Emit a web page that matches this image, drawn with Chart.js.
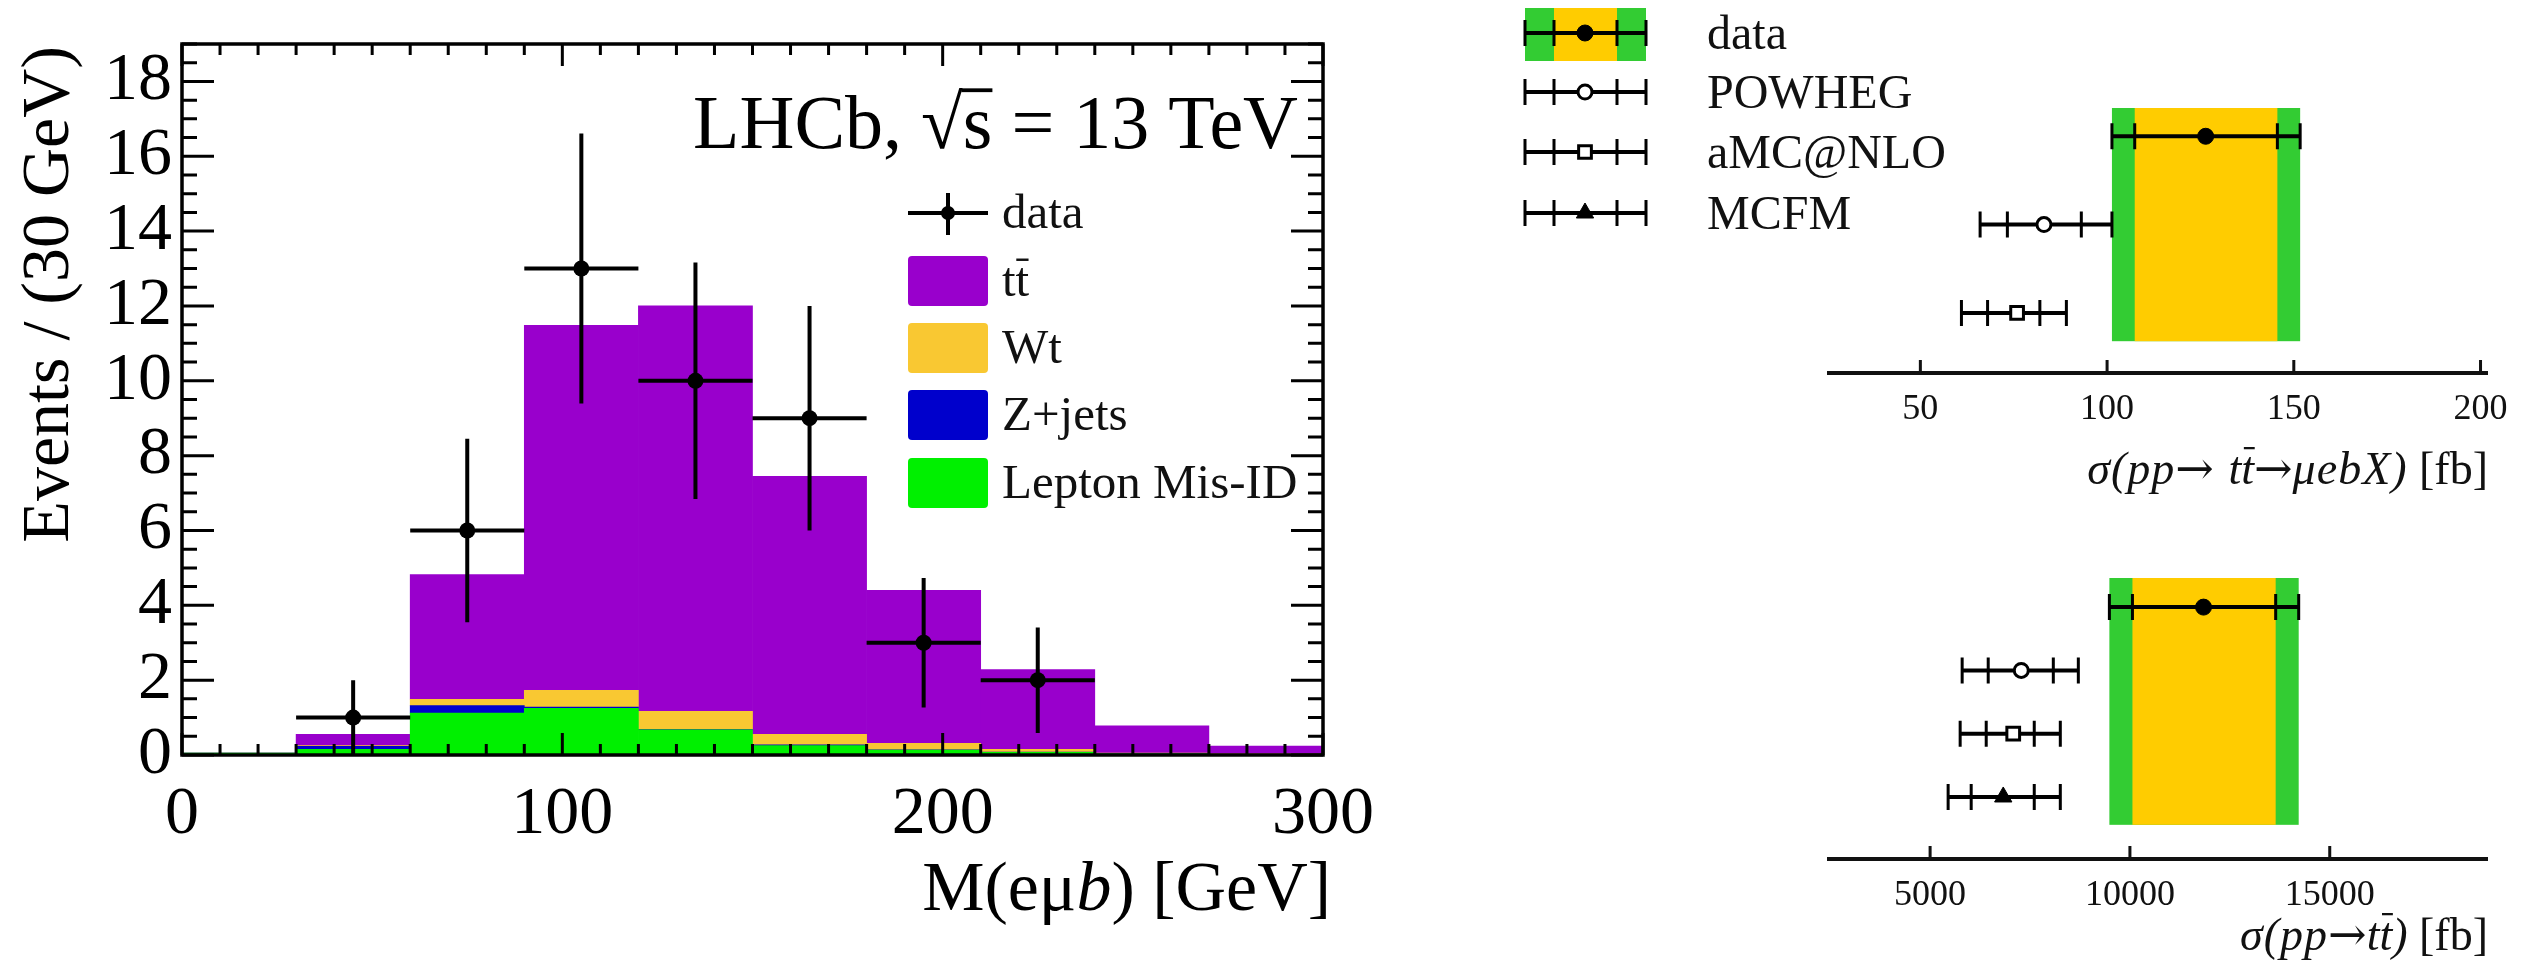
<!DOCTYPE html>
<html>
<head>
<meta charset="utf-8">
<script src="https://cdn.jsdelivr.net/npm/chart.js@4.4.1/dist/chart.umd.min.js"></script>
<style>
  html, body { margin: 0; padding: 0; background: #fff; width: 2529px; height: 967px; overflow: hidden; }
  .pane { position: absolute; }
</style>
</head>
<body>
<div class="pane" style="left:0;top:0;width:1400px;height:967px"><canvas id="mass"></canvas></div>
<div class="pane" style="left:1500px;top:0;width:1029px;height:500px"><canvas id="xsFid"></canvas></div>
<div class="pane" style="left:1500px;top:500px;width:1029px;height:467px"><canvas id="xsTot"></canvas></div>
<script>
// ---- M(e mu b) histogram: 30 GeV bins from 0 to 300 GeV ----
const massBins = ['0-30', '30-60', '60-90', '90-120', '120-150', '150-180', '180-210', '210-240', '240-270', '270-300'];
const misIdEvents = [0.05, 0.15, 1.12, 1.25, 0.67, 0.25, 0.13, 0.07, 0.03, 0.02];
const zJetsEvents = [0.00, 0.08, 0.20, 0.03, 0.01, 0.02, 0.01, 0.01, 0.00, 0.00];
const wtEvents    = [0.00, 0.02, 0.17, 0.45, 0.49, 0.28, 0.17, 0.07, 0.02, 0.01];
const ttbarEvents = [0.00, 0.30, 3.33, 9.75, 10.83, 6.90, 4.09, 2.13, 0.73, 0.21];

// observed events (bin centre, count, errors)
const dataMass    = [45, 75, 105, 135, 165, 195, 225];
const dataCounts  = [1, 6, 13, 10, 9, 3, 2];
const dataErrY    = [1.00, 2.45, 3.61, 3.16, 3.00, 1.73, 1.41];
const dataHalfBin = [15, 15, 15, 15, 15, 15, 15];

const massTickValues   = [0, 100, 200, 300];
const eventsTickValues = [0, 2, 4, 6, 8, 10, 12, 14, 16, 18];

// ---- cross sections: data, POWHEG, aMC@NLO, MCFM ----
const generators = ['data', 'POWHEG', 'aMC@NLO', 'MCFM'];
// sigma(pp -> ttbar -> mu e b X) [fb]
const fidCentral = [126.4, 83.1, 75.9];
const fidInnerLo = [107.4, 73.3, 68.0];
const fidInnerHi = [145.6, 93.1, 82.0];
const fidOuterLo = [101.3, 66.0, 61.0];
const fidOuterHi = [151.7, 101.3, 89.1];
const fidTickValues = [50, 100, 150, 200];
// sigma(pp -> ttbar) [fb]
const totCentral = [11842, 7281, 7080, 6830];
const totInnerLo = [10063, 6454, 6404, 6028];
const totInnerHi = [13647, 8083, 7606, 7606];
const totOuterLo = [9486, 5802, 5752, 5451];
const totOuterHi = [14223, 8709, 8258, 8258];
const totTickValues = [5000, 10000, 15000];

const serif = "'Liberation Serif', 'DejaVu Serif', serif";
const C = {
  ttbar: '#9900CC', wt: '#F9C832', zjets: '#0000CC', misid: '#00F000',
  bandOuter: '#33CC33', bandInner: '#FFCC00', ink: '#000000'
};
const markerStyles = [
  { pointStyle: 'circle',   radius: 8,  fill: '#000', borderWidth: 1 },
  { pointStyle: 'circle',   radius: 7,  fill: '#fff', borderWidth: 3 },
  { pointStyle: 'rect',     radius: 9,  fill: '#fff', borderWidth: 3 },
  { pointStyle: 'triangle', radius: 10, fill: '#000', borderWidth: 1 }
];

function fixedTicks(values) {
  return s => { s.ticks = values.map(v => ({ value: v })); };
}

// text made of several font runs; "bar" puts an overline at the given fraction of the size
function drawRich(ctx, parts, x, y, align) {
  let total = 0;
  parts.forEach(p => {
    ctx.font = p.font;
    ctx.letterSpacing = p.spacing || '0px';
    p.w = ctx.measureText(p.text).width;
    total += p.w;
  });
  let cx = align === 'right' ? x - total : x;
  ctx.textAlign = 'left';
  ctx.textBaseline = 'alphabetic';
  parts.forEach(p => {
    ctx.font = p.font;
    ctx.letterSpacing = p.spacing || '0px';
    ctx.fillText(p.text, cx + (p.dx || 0), y + (p.dy || 0));
    if (p.bar) {
      const size = parseFloat(p.font.match(/(\d+(\.\d+)?)px/)[1]);
      ctx.lineWidth = Math.max(2, size * 0.05);
      ctx.beginPath();
      ctx.moveTo(cx + p.w * (p.from ?? 0.1), y - size * p.bar);
      ctx.lineTo(cx + p.w * (p.to ?? 0.9), y - size * p.bar);
      ctx.stroke();
    }
    cx += p.w;
  });
  ctx.letterSpacing = '0px';
}

// ---------------- left: stacked histogram ----------------
const massDecor = {
  id: 'massDecor',
  beforeDatasetDraw(chart, args) {
    if (args.meta.type !== 'scatter') return;
    const xs = chart.scales.xv, ys = chart.scales.y, ctx = chart.ctx;
    ctx.save();
    ctx.strokeStyle = C.ink;
    ctx.lineWidth = 4;
    dataMass.forEach((m, i) => {
      const px = xs.getPixelForValue(m), py = ys.getPixelForValue(dataCounts[i]);
      const x0 = xs.getPixelForValue(m - dataHalfBin[i]), x1 = xs.getPixelForValue(m + dataHalfBin[i]);
      const y0 = ys.getPixelForValue(Math.max(0, dataCounts[i] - dataErrY[i]));
      const y1 = ys.getPixelForValue(dataCounts[i] + dataErrY[i]);
      ctx.beginPath();
      ctx.moveTo(x0, py); ctx.lineTo(x1, py);
      ctx.moveTo(px, y0); ctx.lineTo(px, y1);
      ctx.stroke();
    });
    ctx.restore();
  },
  afterDraw(chart) {
    const ctx = chart.ctx, ca = chart.chartArea, xs = chart.scales.xv, ys = chart.scales.y;
    ctx.save();
    ctx.strokeStyle = C.ink;
    ctx.fillStyle = C.ink;
    // ticks on all four sides, pointing inwards
    ctx.lineWidth = 3;
    ctx.beginPath();
    for (let k = 0; k <= 38; k++) {
      const len = k % 4 === 0 ? 32 : 15;
      const py = ys.getPixelForValue(k * 0.5);
      ctx.moveTo(ca.left, py); ctx.lineTo(ca.left + len, py);
      ctx.moveTo(ca.right, py); ctx.lineTo(ca.right - len, py);
    }
    for (let k = 0; k <= 30; k++) {
      const len = k % 10 === 0 ? 22 : 11;
      const px = xs.getPixelForValue(k * 10);
      ctx.moveTo(px, ca.bottom); ctx.lineTo(px, ca.bottom - len);
      ctx.moveTo(px, ca.top); ctx.lineTo(px, ca.top + len);
    }
    ctx.stroke();
    ctx.lineWidth = 3.5;
    ctx.strokeRect(ca.left, ca.top, ca.right - ca.left, ca.bottom - ca.top);

    // axis titles
    ctx.save();
    ctx.translate(50, ca.top + 2);
    ctx.rotate(-Math.PI / 2);
    ctx.font = `68px ${serif}`;
    ctx.textAlign = 'right';
    ctx.textBaseline = 'middle';
    ctx.fillText('Events / (30 GeV)', 0, 0);
    ctx.restore();

    drawRich(ctx, [
      { text: 'M(eμ', font: `70px ${serif}` },
      { text: 'b', font: `italic 70px ${serif}` },
      { text: ') [GeV]', font: `70px ${serif}` }
    ], ca.right + 8, 910, 'right');

    // experiment label
    drawRich(ctx, [
      { text: 'LHCb, ', font: `76px ${serif}` },
      { text: '√', font: `76px ${serif}` },
      { text: 's', font: `76px ${serif}`, bar: 0.76, from: -0.05, to: 1.0 },
      { text: ' = 13 TeV', font: `76px ${serif}` }
    ], 1298, 148, 'right');

    // legend
    const bx0 = 908, bx1 = 988, tx = 1002;
    ctx.lineWidth = 4;
    ctx.beginPath();
    ctx.moveTo(bx0, 213); ctx.lineTo(bx1, 213);
    ctx.moveTo(948, 193); ctx.lineTo(948, 235);
    ctx.stroke();
    ctx.beginPath(); ctx.arc(948, 213, 7, 0, Math.PI * 2); ctx.fill();
    const boxes = [[C.ttbar, 281], [C.wt, 348], [C.zjets, 415], [C.misid, 483]];
    boxes.forEach(([col, cy]) => {
      ctx.fillStyle = col;
      ctx.beginPath();
      ctx.roundRect(bx0, cy - 25, bx1 - bx0, 50, 4);
      ctx.fill();
    });
    ctx.fillStyle = '#111';
    ctx.strokeStyle = '#111';
    const lf = `49px ${serif}`;
    drawRich(ctx, [{ text: 'data', font: lf }], tx, 228, 'left');
    drawRich(ctx, [{ text: 't', font: lf }, { text: 't', font: lf, bar: 0.74, from: 0.05, to: 0.95 }], tx, 296, 'left');
    drawRich(ctx, [{ text: 'Wt', font: lf }], tx, 363, 'left');
    drawRich(ctx, [{ text: 'Z+jets', font: lf }], tx, 430, 'left');
    drawRich(ctx, [{ text: 'Lepton Mis-ID', font: lf }], tx, 498, 'left');
    ctx.restore();
  }
};

new Chart(document.getElementById('mass'), {
  type: 'bar',
  data: {
    labels: massBins,
    datasets: [
      { label: 'Lepton Mis-ID', data: misIdEvents, backgroundColor: C.misid },
      { label: 'Z+jets', data: zJetsEvents, backgroundColor: C.zjets },
      { label: 'Wt', data: wtEvents, backgroundColor: C.wt },
      { label: 'tt', data: ttbarEvents, backgroundColor: C.ttbar },
      {
        type: 'scatter', label: 'data', order: -1,
        xAxisID: 'xv', yAxisID: 'y',
        data: dataMass.map((m, i) => ({ x: m, y: dataCounts[i] })),
        pointRadius: 8, backgroundColor: C.ink, borderColor: C.ink, borderWidth: 0
      }
    ]
  },
  options: {
    responsive: true, maintainAspectRatio: false, animation: false, devicePixelRatio: 1,
    datasets: { bar: { barPercentage: 1, categoryPercentage: 1, borderWidth: 0, grouped: false } },
    layout: { padding: { left: 0, top: 35, right: 65, bottom: 0 } },
    plugins: { legend: { display: false }, tooltip: { enabled: false } },
    scales: {
      x: { type: 'category', display: false, stacked: true, offset: true },
      xv: {
        type: 'linear', position: 'bottom', min: 0, max: 300, offset: false,
        grid: { display: false, drawTicks: false }, border: { display: false },
        afterBuildTicks: fixedTicks(massTickValues),
        ticks: { autoSkip: false, maxRotation: 0, padding: 26,
                 callback: v => String(v),
                 color: C.ink, font: { family: serif, size: 68, lineHeight: 1 } },
        afterFit(s) { s.height = 212; }
      },
      y: {
        type: 'linear', position: 'left', stacked: true, min: 0, max: 19,
        grid: { display: false, drawTicks: false }, border: { display: false },
        afterBuildTicks: fixedTicks(eventsTickValues),
        ticks: { autoSkip: false, padding: 10,
                 callback: v => String(v),
                 color: C.ink, font: { family: serif, size: 68, lineHeight: 1 } },
        afterFit(s) { s.width = 182; }
      }
    }
  },
  plugins: [massDecor]
});

// ---------------- right: cross-section comparisons ----------------
function doubleBar(ctx, xOuterLo, xInnerLo, xInnerHi, xOuterHi, y) {
  ctx.lineWidth = 4;
  ctx.beginPath();
  ctx.moveTo(xOuterLo, y); ctx.lineTo(xOuterHi, y);
  ctx.stroke();
  ctx.lineWidth = 3;
  ctx.beginPath();
  [xOuterLo, xInnerLo, xInnerHi, xOuterHi].forEach(x => { ctx.moveTo(x, y - 13); ctx.lineTo(x, y + 13); });
  ctx.stroke();
}

function crossSectionDecor(cfg) {
  return {
    id: 'xsDecor',
    beforeDatasetsDraw(chart) {
      const { ctx, scales: { x, y } } = chart;
      ctx.save();
      const yTop = y.getPixelForValue(cfg.bandFrom), yBot = y.getPixelForValue(cfg.bandTo);
      const o0 = x.getPixelForValue(cfg.outerLo[0]), o1 = x.getPixelForValue(cfg.outerHi[0]);
      const i0 = x.getPixelForValue(cfg.innerLo[0]), i1 = x.getPixelForValue(cfg.innerHi[0]);
      ctx.fillStyle = C.bandOuter;
      ctx.fillRect(o0, yTop, o1 - o0, yBot - yTop);
      ctx.fillStyle = C.bandInner;
      ctx.fillRect(i0, yTop, i1 - i0, yBot - yTop);
      ctx.strokeStyle = C.ink;
      cfg.central.forEach((c, i) => {
        doubleBar(ctx, x.getPixelForValue(cfg.outerLo[i]), x.getPixelForValue(cfg.innerLo[i]),
                  x.getPixelForValue(cfg.innerHi[i]), x.getPixelForValue(cfg.outerHi[i]), y.getPixelForValue(i));
      });
      ctx.restore();
    },
    afterDraw(chart) {
      const { ctx, chartArea: ca, scales: { x } } = chart;
      ctx.save();
      ctx.strokeStyle = '#111';
      ctx.fillStyle = '#111';
      ctx.lineWidth = 4;
      ctx.beginPath();
      ctx.moveTo(ca.left, ca.bottom); ctx.lineTo(ca.right, ca.bottom);
      ctx.stroke();
      ctx.lineWidth = 3;
      ctx.beginPath();
      x.ticks.forEach(t => {
        const px = x.getPixelForValue(t.value);
        ctx.moveTo(px, ca.bottom); ctx.lineTo(px, ca.bottom - 13);
      });
      ctx.stroke();
      drawRich(ctx, cfg.title, ca.right, cfg.titleBaseline, 'right');

      if (cfg.legend) {
        const lx0 = 25, lx1 = 146, li0 = 54, li1 = 117, mx = 85;
        const rows = [33, 92, 152, 213];
        ctx.fillStyle = C.bandOuter;
        ctx.fillRect(lx0, 8, lx1 - lx0, 53);
        ctx.fillStyle = C.bandInner;
        ctx.fillRect(li0, 8, li1 - li0, 53);
        rows.forEach((ry, i) => {
          ctx.strokeStyle = C.ink;
          doubleBar(ctx, lx0, li0, li1, lx1, ry);
          const ms = markerStyles[i];
          ctx.fillStyle = ms.fill;
          ctx.strokeStyle = C.ink;
          ctx.lineWidth = ms.borderWidth;
          Chart.helpers.drawPoint(ctx, { pointStyle: ms.pointStyle, radius: ms.radius, borderWidth: ms.borderWidth, rotation: 0 }, mx, ry);
          ctx.fillStyle = '#111';
          drawRich(ctx, [{ text: generators[i], font: `48px ${serif}` }], 207, ry + 16, 'left');
        });
      }
      ctx.restore();
    }
  };
}

function crossSectionChart(canvasId, cfg) {
  const n = cfg.central.length;
  new Chart(document.getElementById(canvasId), {
    type: 'scatter',
    data: {
      datasets: generators.slice(0, n).map((g, i) => ({
        label: g,
        data: [{ x: cfg.central[i], y: i }],
        pointStyle: markerStyles[i].pointStyle,
        pointRadius: markerStyles[i].radius,
        backgroundColor: markerStyles[i].fill,
        borderColor: C.ink,
        borderWidth: markerStyles[i].borderWidth
      }))
    },
    options: {
      responsive: true, maintainAspectRatio: false, animation: false, devicePixelRatio: 1,
      layout: { padding: { left: 327, right: 41, top: cfg.top, bottom: 0 } },
      plugins: { legend: { display: false }, tooltip: { enabled: false } },
      scales: {
        x: {
          type: 'linear', position: 'bottom', min: cfg.xMin, max: cfg.xMax, offset: false,
          grid: { display: false, drawTicks: false }, border: { display: false },
          afterBuildTicks: fixedTicks(cfg.ticks),
          ticks: { autoSkip: false, maxRotation: 0, padding: 19,
                   callback: v => String(v),
                   color: '#111', font: { family: serif, size: 36, lineHeight: 1 } },
          afterFit(s) { s.height = cfg.axisHeight; }
        },
        y: { type: 'linear', display: false, reverse: true, min: cfg.yMin, max: cfg.yMax }
      }
    },
    plugins: [crossSectionDecor(cfg)]
  });
}

const it46 = `italic 46px ${serif}`;
const arrow46 = `italic 46px 'DejaVu Serif', serif`;
const up46 = `46px ${serif}`;

crossSectionChart('xsFid', {
  central: fidCentral, innerLo: fidInnerLo, innerHi: fidInnerHi, outerLo: fidOuterLo, outerHi: fidOuterHi,
  xMin: 25, xMax: 202, ticks: fidTickValues,
  yMin: -0.32, yMax: 2.68, bandFrom: -0.32, bandTo: 2.32,
  top: 108, axisHeight: 127, titleBaseline: 484, legend: true,
  title: [
    { text: 'σ(pp', font: it46, spacing: '1px' },
    { text: '→ ', font: arrow46 },
    { text: 't', font: it46 },
    { text: 't', font: it46, bar: 0.78, from: 0.2, to: 1.05 },
    { text: '→', font: arrow46 },
    { text: 'μebX)', font: it46, spacing: '1px' },
    { text: ' [fb]', font: up46 }
  ]
});

crossSectionChart('xsTot', {
  central: totCentral, innerLo: totInnerLo, innerHi: totInnerHi, outerLo: totOuterLo, outerHi: totOuterHi,
  xMin: 2420, xMax: 18960, ticks: totTickValues,
  yMin: -0.46, yMax: 3.98, bandFrom: -0.46, bandTo: 3.44,
  top: 78, axisHeight: 108, titleBaseline: 450, legend: false,
  title: [
    { text: 'σ(pp', font: it46, spacing: '1px' },
    { text: '→', font: arrow46 },
    { text: 't', font: it46 },
    { text: 't', font: it46, bar: 0.78, from: 0.2, to: 1.05 },
    { text: ')', font: it46 },
    { text: ' [fb]', font: up46 }
  ]
});
</script>
</body>
</html>
